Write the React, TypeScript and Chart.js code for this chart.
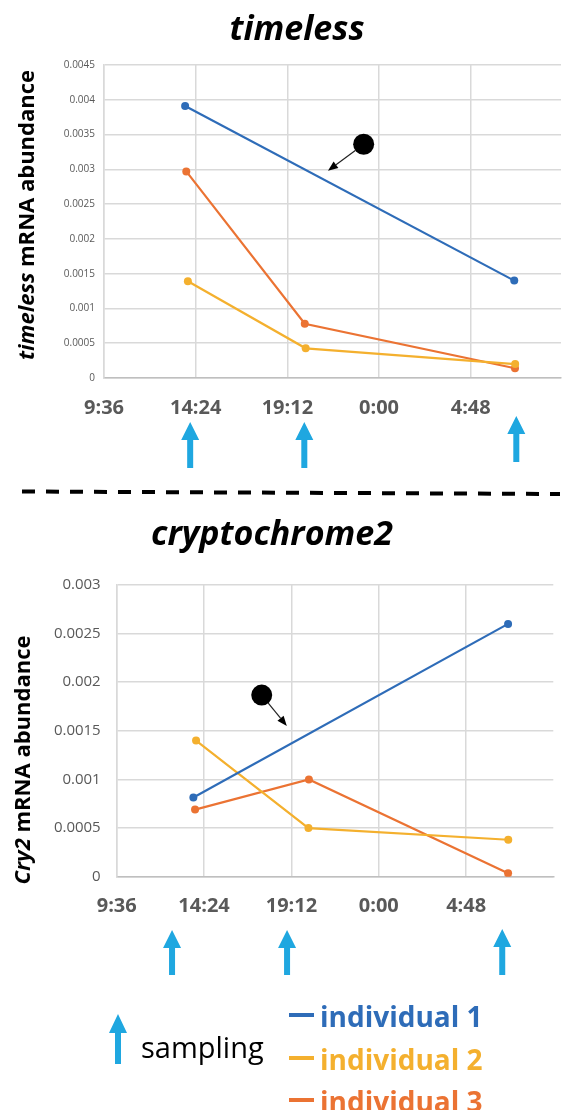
import React, { useEffect, useRef } from "react";
import { Chart, registerables } from "chart.js";
Chart.register(...registerables);

const FONT = '"Open Sans", "Noto Sans", sans-serif';

// x axis: time of day as a day fraction (0.4 = 9:36)
const X_MIN = 0.4;
const X_STEP = 0.2;

const SERIES_LABELS = ["individual 1", "individual 2", "individual 3"];
const SERIES_COLORS = ["#2e6cb8", "#f4b02e", "#eb7333"];

// timeless
const TIM_X1 = [0.577, 1.295];
const TIM_Y1 = [0.00391, 0.0014];
const TIM_X2 = [0.583, 0.840, 1.297];
const TIM_Y2 = [0.00139, 0.000427, 0.0002];
const TIM_X3 = [0.5795, 0.838, 1.2966];
const TIM_Y3 = [0.00297, 0.00078, 0.00014];
const TIM_SAMPLING = [0.588, 0.837, 1.2995];

// cryptochrome2
const CRY_X1 = [0.5755, 1.296];
const CRY_Y1 = [0.000815, 0.0026];
const CRY_X2 = [0.5817, 0.839, 1.2964];
const CRY_Y2 = [0.0014, 0.0005, 0.00038];
const CRY_X3 = [0.5794, 0.84, 1.296];
const CRY_Y3 = [0.00069, 0.001, 0.000035];
const CRY_SAMPLING = [0.5267, 0.79, 1.2826];

const GRID = "#d9d9d9";
const AXIS = "#bfbfbf";
const TICK_COLOR = "#595959";
const ARROW_BLUE = "#1fa7e0";

function fmtTime(v: number) {
  const mins = ((Math.round(v * 1440) % 1440) + 1440) % 1440;
  const h = Math.floor(mins / 60);
  const m = mins % 60;
  return `${h}:${m < 10 ? "0" + m : m}`;
}
function fmtNum(v: number) {
  return parseFloat(Number(v).toFixed(5)).toString();
}

function upArrow(ctx: CanvasRenderingContext2D, cx: number, top: number, bottom: number) {
  const headW = 18, headH = 18, shaftW = 6;
  ctx.fillStyle = ARROW_BLUE;
  ctx.beginPath();
  ctx.moveTo(cx, top);
  ctx.lineTo(cx + headW / 2, top + headH);
  ctx.lineTo(cx + shaftW / 2, top + headH);
  ctx.lineTo(cx + shaftW / 2, bottom);
  ctx.lineTo(cx - shaftW / 2, bottom);
  ctx.lineTo(cx - shaftW / 2, top + headH);
  ctx.lineTo(cx - headW / 2, top + headH);
  ctx.closePath();
  ctx.fill();
}

function makeOverlay(p: any) {
  return {
    id: "overlay_" + p.id,
    afterDraw(chart: any) {
      const ctx: CanvasRenderingContext2D = chart.ctx;
      const xs = chart.scales.x;
      const ys = chart.scales.y;
      ctx.save();
      // y axis title with mixed styles
      ctx.translate(p.titleX, p.titleY);
      ctx.rotate(-Math.PI / 2);
      ctx.textBaseline = "alphabetic";
      ctx.fillStyle = "#000";
      const fonts = p.titleParts.map((tp: any) => `${tp[1] ? "italic " : ""}bold ${p.titleSize}px ${FONT}`);
      const widths = p.titleParts.map((tp: any, i: number) => {
        ctx.font = fonts[i];
        return ctx.measureText(tp[0]).width;
      });
      let sx = -widths.reduce((a: number, b: number) => a + b, 0) / 2;
      p.titleParts.forEach((tp: any, i: number) => {
        ctx.font = fonts[i];
        ctx.fillText(tp[0], sx, 0);
        sx += widths[i];
      });
      ctx.restore();

      // sampling arrows
      ctx.save();
      p.sampling.forEach((t: number, i: number) => {
        upArrow(ctx, xs.getPixelForValue(t), p.arrowTop[i], p.arrowBottom[i]);
      });
      ctx.restore();

      // annotation dot + arrow
      ctx.save();
      const dx = xs.getPixelForValue(p.dot[0]);
      const dy = ys.getPixelForValue(p.dot[1]);
      const tx = xs.getPixelForValue(p.tip[0]);
      const ty = ys.getPixelForValue(p.tip[1]);
      ctx.fillStyle = "#000";
      ctx.beginPath();
      ctx.arc(dx, dy, 10.5, 0, Math.PI * 2);
      ctx.fill();
      const a = Math.atan2(ty - dy, tx - dx);
      const ux = Math.cos(a), uy = Math.sin(a);
      const hl = 10, hw = 4;
      ctx.strokeStyle = "#222";
      ctx.lineWidth = 1.2;
      ctx.beginPath();
      ctx.moveTo(dx + ux * 10, dy + uy * 10);
      ctx.lineTo(tx - ux * hl, ty - uy * hl);
      ctx.stroke();
      ctx.beginPath();
      ctx.moveTo(tx, ty);
      ctx.lineTo(tx - ux * hl - uy * hw, ty - uy * hl + ux * hw);
      ctx.lineTo(tx - ux * hl + uy * hw, ty - uy * hl - ux * hw);
      ctx.closePath();
      ctx.fill();
      ctx.restore();
    },
  };
}

function makeConfig(p: any): any {
  const datasets = p.series.map((s: any, i: number) => ({
    label: SERIES_LABELS[i],
    data: s.x.map((xv: number, j: number) => ({ x: xv, y: s.y[j] })),
    borderColor: SERIES_COLORS[i],
    backgroundColor: SERIES_COLORS[i],
    borderWidth: 2.2,
    pointRadius: 4,
    pointHoverRadius: 4,
    pointBorderWidth: 0,
    tension: 0,
  }));
  return {
    type: "line",
    data: { datasets },
    options: {
      responsive: false,
      animation: false,
      layout: { padding: p.padding },
      plugins: { legend: { display: false }, tooltip: { enabled: false } },
      scales: {
        x: {
          type: "linear",
          min: X_MIN,
          max: p.xMax,
          afterFit: (s: any) => {
            s.height = 42;
          },
          grid: { color: GRID, drawTicks: false, lineWidth: 1.5 },
          border: { color: AXIS, width: 1.5 },
          ticks: {
            stepSize: X_STEP,
            includeBounds: false,
            autoSkip: false,
            maxRotation: 0,
            padding: 18,
            color: TICK_COLOR,
            font: { family: FONT, size: 20, weight: "bold" },
            callback: (v: number) => fmtTime(v),
          },
        },
        y: {
          min: 0,
          max: p.yMax,
          afterFit: (s: any) => {
            s.width = p.yAxisWidth;
          },
          grid: { color: GRID, drawTicks: false, lineWidth: 1.5 },
          border: { color: GRID, width: 1.5 },
          ticks: {
            stepSize: p.yStep,
            padding: p.yTickPad,
            color: TICK_COLOR,
            font: { family: FONT, size: p.yTickSize },
            callback: (v: number) => fmtNum(v),
          },
        },
      },
    },
    plugins: [makeOverlay(p)],
  };
}

const TOP_CANVAS = { top: 0, height: 480 };
const BOT_CANVAS = { top: 560, height: 440 };

export default function App() {
  const ref1 = useRef<HTMLCanvasElement>(null);
  const ref2 = useRef<HTMLCanvasElement>(null);

  useEffect(() => {
    const c1 = new Chart(
      ref1.current as HTMLCanvasElement,
      makeConfig({
        id: "tim",
        series: [
          { x: TIM_X1, y: TIM_Y1 },
          { x: TIM_X2, y: TIM_Y2 },
          { x: TIM_X3, y: TIM_Y3 },
        ],
        xMax: 1.397,
        yMax: 0.0045,
        yStep: 0.0005,
        yTickSize: 10,
        yTickPad: 9,
        yAxisWidth: 104,
        padding: { top: 65, left: 0, right: 0, bottom: 60 },
        titleParts: [["timeless", true], [" mRNA abundance", false]],
        titleX: 33.5,
        titleY: 215,
        titleSize: 22,
        sampling: TIM_SAMPLING,
        arrowTop: [422, 422, 416],
        arrowBottom: [468, 468, 462],
        dot: [0.9665, 0.00336],
        tip: [0.8886, 0.00298],
      })
    );
    const c2 = new Chart(
      ref2.current as HTMLCanvasElement,
      makeConfig({
        id: "cry",
        series: [
          { x: CRY_X1, y: CRY_Y1 },
          { x: CRY_X2, y: CRY_Y2 },
          { x: CRY_X3, y: CRY_Y3 },
        ],
        xMax: 1.3995,
        yMax: 0.003,
        yStep: 0.0005,
        yTickSize: 15,
        yTickPad: 16,
        yAxisWidth: 116.7,
        padding: { top: 23.3, left: 0, right: 11.7, bottom: 81.3 },
        titleParts: [["Cry2", true], [" mRNA abundance", false]],
        titleX: 30,
        titleY: 200,
        titleSize: 22,
        sampling: CRY_SAMPLING,
        arrowTop: [370, 370, 369],
        arrowBottom: [415, 415, 415],
        dot: [0.732, 0.001868],
        tip: [0.7895, 0.00155],
      })
    );
    return () => {
      c1.destroy();
      c2.destroy();
    };
  }, []);

  const legendY = [1015, 1058, 1100];
  const legendBase = [1027, 1069.5, 1112];

  return (
    <div
      style={{
        position: "absolute",
        left: 0,
        top: 0,
        width: 565,
        height: 1110,
        overflow: "hidden",
        background: "#fff",
      }}
    >
      <canvas
        ref={ref1}
        width={565}
        height={TOP_CANVAS.height}
        style={{ position: "absolute", left: 0, top: TOP_CANVAS.top, width: 565, height: TOP_CANVAS.height }}
      />
      <canvas
        ref={ref2}
        width={565}
        height={BOT_CANVAS.height}
        style={{ position: "absolute", left: 0, top: BOT_CANVAS.top, width: 565, height: BOT_CANVAS.height }}
      />
      <svg
        width={565}
        height={1110}
        style={{ position: "absolute", left: 0, top: 0, pointerEvents: "none" }}
      >
        <text x={297} y={39.5} textAnchor="middle" fontFamily={FONT} fontSize={34} fontWeight="bold" fontStyle="italic" fill="#000">
          timeless
        </text>
        <text x={272} y={545} textAnchor="middle" fontFamily={FONT} fontSize={34} fontWeight="bold" fontStyle="italic" fill="#000">
          cryptochrome2
        </text>
        <line x1={22} y1={491.5} x2={560} y2={494} stroke="#000" strokeWidth={4} strokeDasharray="13 11" />
        {/* legend: sampling arrow */}
        <polygon
          points="118,1014 127,1033 121,1033 121,1064 115,1064 115,1033 109,1033"
          fill={ARROW_BLUE}
        />
        <text x={141} y={1058} fontFamily={FONT} fontSize={29} fill="#000">
          sampling
        </text>
        {SERIES_LABELS.map((lab, i) => (
          <g key={lab}>
            <line x1={289} y1={legendY[i]} x2={314} y2={legendY[i]} stroke={SERIES_COLORS[i]} strokeWidth={4} />
            <text x={320} y={legendBase[i]} fontFamily={FONT} fontSize={28} fontWeight="bold" fill={SERIES_COLORS[i]}>
              {lab}
            </text>
          </g>
        ))}
      </svg>
    </div>
  );
}
